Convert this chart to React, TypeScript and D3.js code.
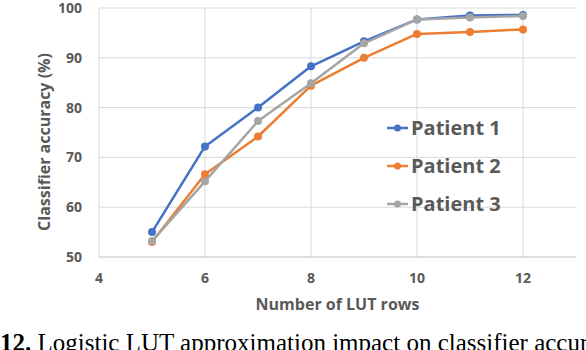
import React, { useEffect, useRef } from "react";
import * as d3 from "d3";

// LUT rows (x)
const lutRows = [5, 6, 7, 8, 9, 10, 11, 12];
const patient1 = [55, 72.2, 80, 88.3, 93.3, 97.7, 98.5, 98.6];
const patient2 = [53, 66.6, 74.2, 84.4, 90, 94.8, 95.2, 95.7];
const patient3 = [53.2, 65.2, 77.3, 84.9, 92.9, 97.7, 98.1, 98.4];
const seriesNames = ["Patient 1", "Patient 2", "Patient 3"];
const xTicks = [4, 6, 8, 10, 12];
const yTicks = [50, 60, 70, 80, 90, 100];

const COLORS = ["#4472C4", "#ED7D31", "#A5A5A5"];
const FONT = "'Open Sans', sans-serif";
const TEXT = "#595959";

const App = () => {
  const ref = useRef<SVGSVGElement>(null);

  useEffect(() => {
    const svg = d3.select(ref.current);
    svg.selectAll("*").remove();

    const x = d3.scaleLinear().domain([4, 13]).range([99, 576]);
    const y = d3.scaleLinear().domain([50, 100]).range([257, 8]);

    // grid
    svg
      .append("g")
      .selectAll("line")
      .data(yTicks)
      .enter()
      .append("line")
      .attr("x1", x(4))
      .attr("x2", x(13))
      .attr("y1", (d) => y(d))
      .attr("y2", (d) => y(d))
      .attr("stroke", (d) => (d === 50 ? "#bfbfbf" : "#d9d9d9"))
      .attr("stroke-width", 1);
    svg
      .append("g")
      .selectAll("line")
      .data(xTicks)
      .enter()
      .append("line")
      .attr("x1", (d) => x(d))
      .attr("x2", (d) => x(d))
      .attr("y1", y(100))
      .attr("y2", y(50))
      .attr("stroke", "#d9d9d9")
      .attr("stroke-width", 1);

    // tick labels
    svg
      .append("g")
      .selectAll("text")
      .data(yTicks)
      .enter()
      .append("text")
      .attr("x", 82)
      .attr("y", (d) => y(d))
      .attr("dy", "0.35em")
      .attr("text-anchor", "end")
      .attr("font-family", FONT)
      .attr("font-weight", "bold")
      .attr("font-size", 14)
      .attr("fill", TEXT)
      .text((d) => d);
    svg
      .append("g")
      .selectAll("text")
      .data(xTicks)
      .enter()
      .append("text")
      .attr("x", (d) => x(d))
      .attr("y", 278)
      .attr("dy", "0.35em")
      .attr("text-anchor", "middle")
      .attr("font-family", FONT)
      .attr("font-weight", "bold")
      .attr("font-size", 14)
      .attr("fill", TEXT)
      .text((d) => d);

    // axis titles
    svg
      .append("text")
      .attr("x", 337.5)
      .attr("y", 310)
      .attr("text-anchor", "middle")
      .attr("font-family", FONT)
      .attr("font-weight", "bold")
      .attr("font-size", 16)
      .attr("fill", TEXT)
      .text("Number of LUT rows");
    svg
      .append("text")
      .attr("transform", "translate(50,142) rotate(-90)")
      .attr("text-anchor", "middle")
      .attr("font-family", FONT)
      .attr("font-weight", "bold")
      .attr("font-size", 16)
      .attr("fill", TEXT)
      .text("Classifier accuracy (%)");

    // lines
    const all = [patient1, patient2, patient3];
    const line = d3
      .line<number>()
      .x((d, i) => x(lutRows[i]))
      .y((d) => y(d));
    all.forEach((vals, s) => {
      const g = svg.append("g");
      g.append("path")
        .attr("d", line(vals))
        .attr("fill", "none")
        .attr("stroke", COLORS[s])
        .attr("stroke-width", 2.5)
        .attr("stroke-linejoin", "round");
      g.selectAll("circle")
        .data(vals)
        .enter()
        .append("circle")
        .attr("cx", (d, i) => x(lutRows[i]))
        .attr("cy", (d) => y(d))
        .attr("r", 4)
        .attr("fill", COLORS[s]);
    });

    // legend
    const legend = svg
      .append("g")
      .selectAll("g")
      .data(seriesNames)
      .enter()
      .append("g")
      .attr("transform", (d, i) => `translate(387,${128 + i * 38})`);
    legend
      .append("line")
      .attr("x1", 0)
      .attr("x2", 21)
      .attr("stroke", (d, i) => COLORS[i])
      .attr("stroke-width", 2.5);
    legend
      .append("circle")
      .attr("cx", 10.5)
      .attr("r", 3.5)
      .attr("fill", (d, i) => COLORS[i]);
    legend
      .append("text")
      .attr("x", 24)
      .attr("y", 7)
      .attr("font-family", FONT)
      .attr("font-weight", "bold")
      .attr("font-size", 20)
      .attr("fill", TEXT)
      .text((d) => d);

    // caption (cropped at bottom)
    const cap = svg
      .append("text")
      .attr("x", 0)
      .attr("y", 351)
      .attr("font-family", "'Liberation Serif', 'Times New Roman', serif")
      .attr("font-size", 25)
      .attr("fill", "#000");
    cap.append("tspan").attr("font-weight", "bold").text("12.");
    cap.append("tspan").text(" Logistic LUT approximation impact on classifier accuracy");
  }, []);

  return (
    <svg
      ref={ref}
      width={586}
      height={350}
      style={{ position: "absolute", left: 0, top: 0, background: "#fff" }}
    />
  );
};

export default App;
